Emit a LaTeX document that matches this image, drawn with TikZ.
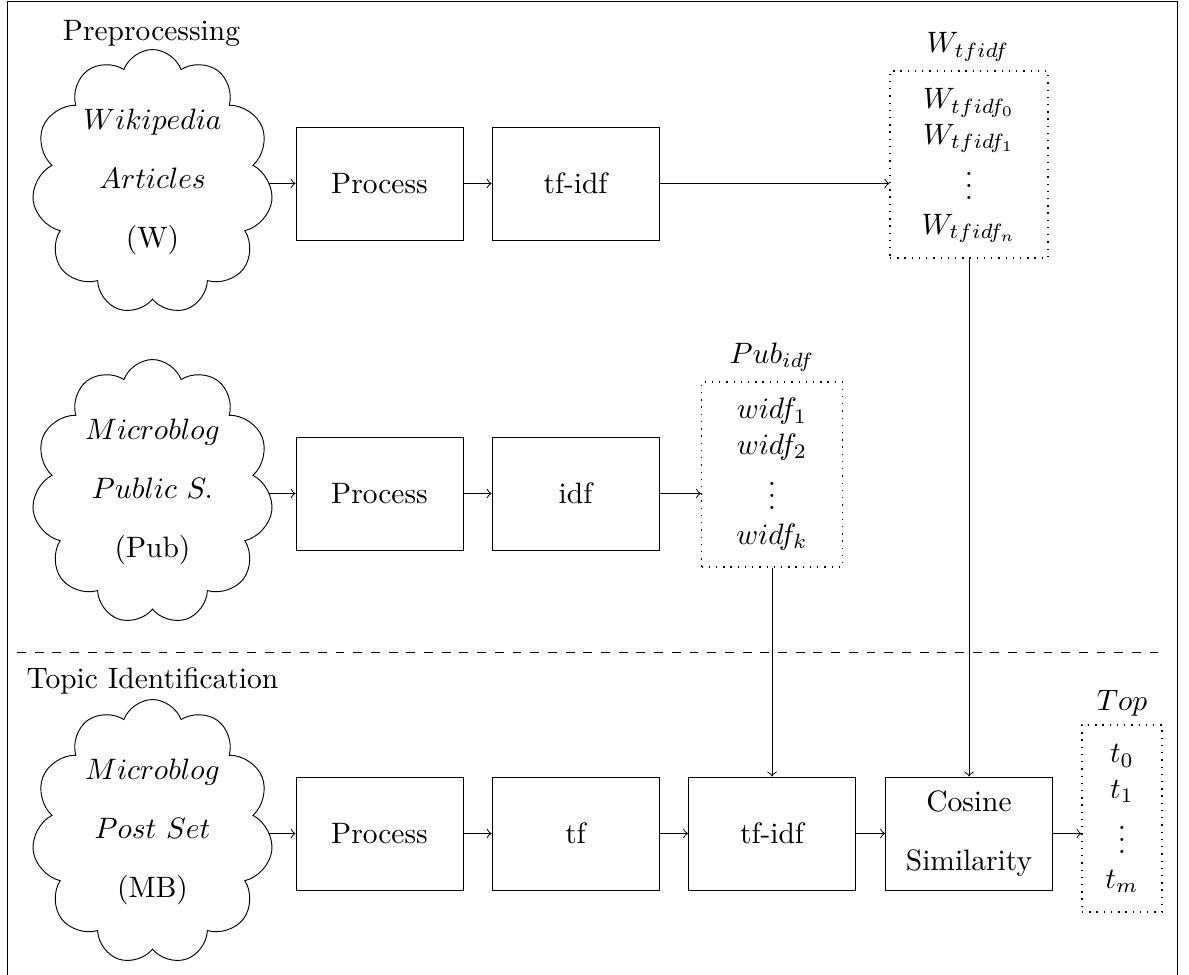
\documentclass[tikz,border=0pt]{standalone}
\usetikzlibrary{shapes.symbols}
\begin{document}
\begin{tikzpicture}[x=0.339pt,y=-0.339pt,
  every node/.style={inner sep=0pt},
  every path/.style={line width=0.32pt},
  stage/.style={draw, minimum width=56.6pt, minimum height=38.3pt, align=center},
  src/.style={draw, cloud, cloud puffs=11, cloud puff arc=140, cloud ignores aspect,
              minimum width=81.7pt, minimum height=89.8pt, align=center},
  store/.style={draw, dotted, line width=0.45pt},
  flow/.style={->}]
\useasboundingbox (0,0) rectangle (1189,975);
% outer frame
\draw (7,1) rectangle (1177,990);

% --- preprocessing ---
\node (lpre) at (151.5,33) {Preprocessing};
\node[src] (wiki) at (152.5,182) {$Wikipedia$\\[8pt]$Articles$\\[8pt](W)};
\node[stage] (p1) at (379.5,183.5) {Process};
\node[stage] (tfidfw) at (575.5,183.5) {tf-idf};
\node[store, minimum width=53.6pt, minimum height=63.4pt] (wstore) at (969,164.5)
  {$\begin{array}{c} W_{tfidf_0}\\ W_{tfidf_1}\\ \vdots\\ W_{tfidf_n}\end{array}$};
\node (wtitle) at (968,47) {$W_{tfidf}$};

\node[src] (pubs) at (152.5,492) {$Microblog$\\[8pt]$Public\ S.$\\[8pt](Pub)};
\node[stage] (p2) at (379.5,493.5) {Process};
\node[stage] (idf) at (575.5,493.5) {idf};
\node[store, minimum width=47.8pt, minimum height=62.7pt] (pstore) at (772,474.5)
  {$\begin{array}{c} widf_1\\ widf_2\\ \vdots\\ widf_k\end{array}$};
\node (ptitle) at (772,357) {$Pub_{idf}$};

% --- separator ---
\coordinate (sepl) at (17,652);
\coordinate (sepr) at (1158,652);
\draw[dashed] (sepl) -- (sepr);

% --- topic identification ---
\node (ltop) at (152.5,681) {Topic Identification};
\node[src] (mb) at (152.5,832) {$Microblog$\\[8pt]$Post\ Set$\\[8pt](MB)};
\node[stage] (p3) at (379.5,833.5) {Process};
\node[stage] (tf) at (575.5,833.5) {tf};
\node[stage] (tfidfm) at (772,833.5) {tf-idf};
\node[stage] (cos) at (969,833.5) {Cosine\\[8pt]Similarity};
\node[store, minimum width=27.1pt, minimum height=63.4pt] (tstore) at (1122,818.5)
  {$\begin{array}{c} t_0\\ t_1\\ \vdots\\ t_m\end{array}$};
\node (ttitle) at (1122,703) {$Top$};

% connectors
\draw[flow] (wiki.east |- p1) -- (p1);
\draw[flow] (p1) -- (tfidfw);
\draw[flow] (tfidfw.east) -- (tfidfw.east -| wstore.west);
\draw[flow] (pubs.east |- p2) -- (p2);
\draw[flow] (p2) -- (idf);
\draw[flow] (idf.east) -- (idf.east -| pstore.west);
\draw[flow] (mb.east |- p3) -- (p3);
\draw[flow] (p3) -- (tf);
\draw[flow] (tf) -- (tfidfm);
\draw[flow] (tfidfm) -- (cos);
\draw[flow] (cos.east) -- (cos.east -| tstore.west);
\draw[flow] (pstore.south) -- (tfidfm.north);
\draw[flow] (wstore.south) -- (cos.north);
\end{tikzpicture}
\end{document}
